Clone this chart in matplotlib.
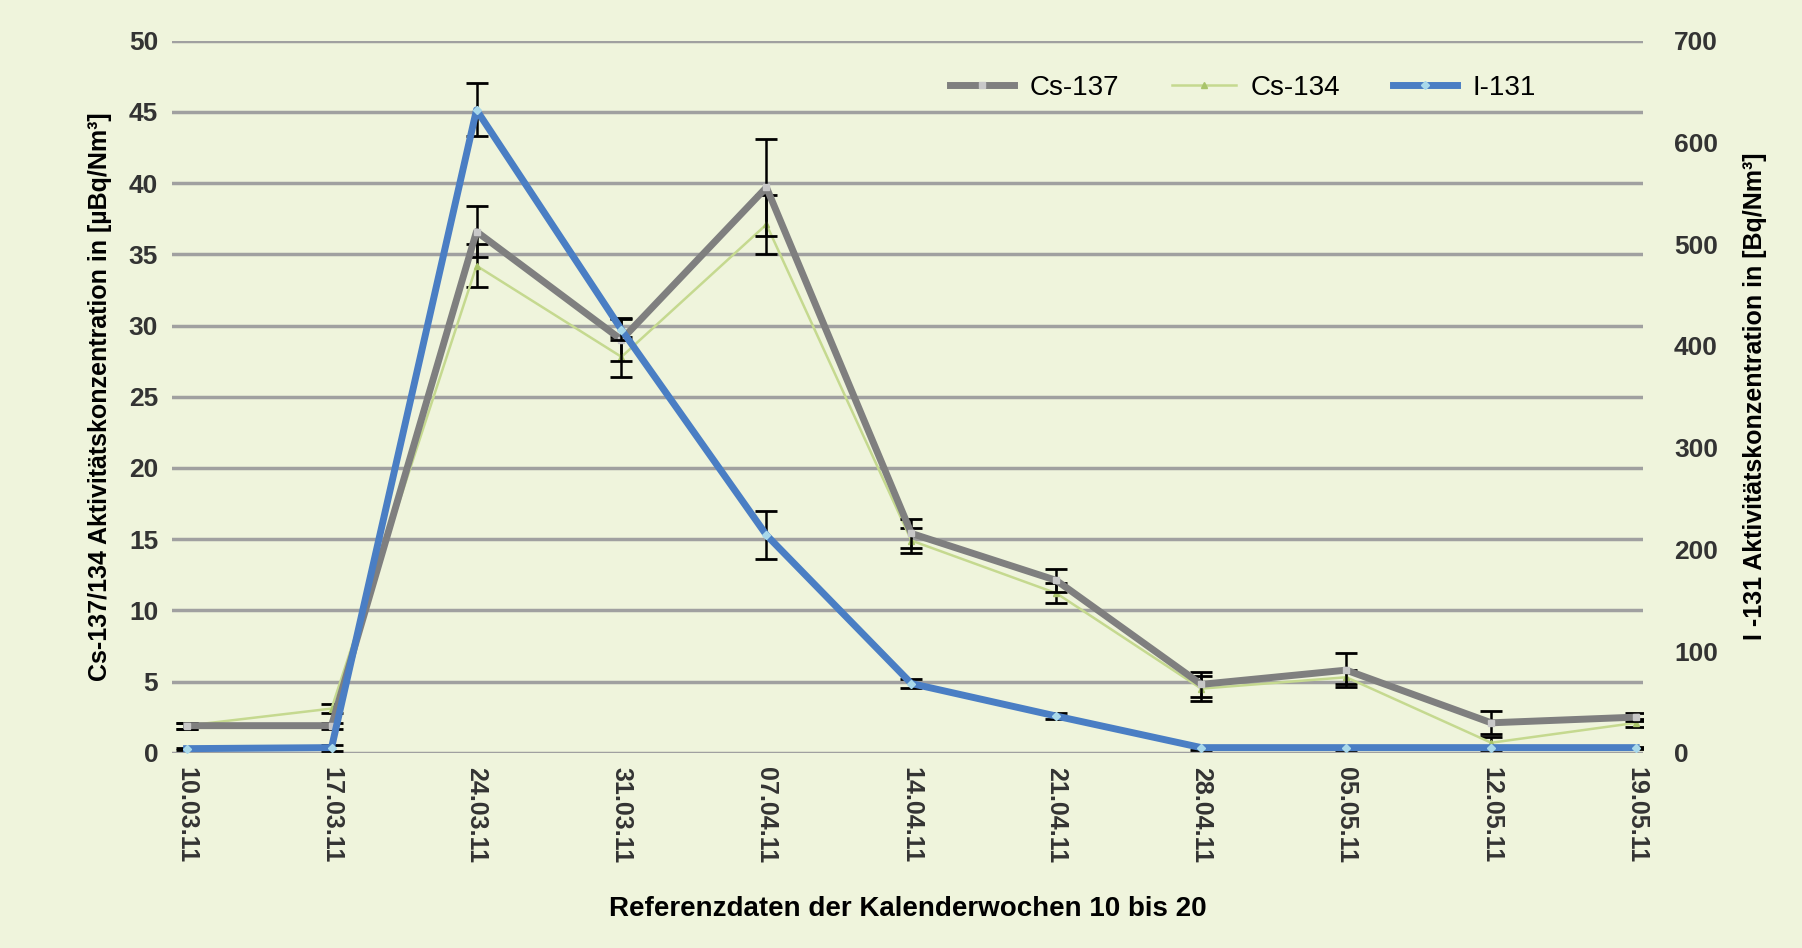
import numpy as np
import matplotlib
matplotlib.use('Agg')
import matplotlib.pyplot as plt
from matplotlib.lines import Line2D

# daten
datum = ['10.03.11', '17.03.11', '24.03.11', '31.03.11', '07.04.11', '14.04.11',
         '21.04.11', '28.04.11', '05.05.11', '12.05.11', '19.05.11']
cs137 = [1.9, 1.9, 36.6, 29.0, 39.7, 15.4, 12.1, 4.8, 5.8, 2.1, 2.5]
cs137_err = [0.2, 0.2, 1.8, 1.5, 3.4, 1.0, 0.8, 0.9, 1.2, 0.8, 0.3]
cs134 = [1.9, 3.1, 34.2, 27.8, 37.1, 14.9, 11.2, 4.5, 5.3, 0.7, 2.1]
cs134_err = [0.2, 0.3, 1.5, 1.4, 2.1, 0.9, 0.7, 0.9, 0.5, 0.4, 0.3]
i131 = [4, 5, 632, 416, 214, 68, 36, 5, 5, 5, 5]
i131_err = [1, 3, 26, 10, 24, 4, 3, 2, 2, 2, 1]

bg = '#eff4dc'
plt.rcParams['font.family'] = ['Liberation Sans', 'DejaVu Sans']

fig = plt.figure(figsize=(18.02, 9.48), dpi=100, facecolor=bg)
ax = fig.add_axes([0.0955, 0.206, 0.8165, 0.751])
ax.set_facecolor(bg)
ax2 = ax.twinx()

x = np.arange(len(datum))

# Cs-137 / Cs-134 links
ax.errorbar(x, cs134, yerr=cs134_err, color='#c5d98f', lw=1.8, marker='^', ms=5,
            mfc='#a9c46a', mec='#a9c46a', ecolor='black', elinewidth=1.8,
            capsize=8, capthick=2, zorder=3)
ax.errorbar(x, cs137, yerr=cs137_err, color='#7f7f7f', lw=5, marker='s', ms=4,
            mfc='#c8c8c8', mec='#c8c8c8', ecolor='black', elinewidth=1.8,
            capsize=8, capthick=2, zorder=4)

# I-131 rechts
ax2.errorbar(x, i131, yerr=i131_err, color='#4a7ec4', lw=5, marker='D', ms=4,
             mfc='#a8d8ea', mec='#a8d8ea', ecolor='black', elinewidth=1.8,
             capsize=8, capthick=2, zorder=3)

ax.set_xlim(-0.1, 10.05)
ax.set_ylim(0, 50)
ax2.set_ylim(0, 700)
ax.set_yticks(np.arange(0, 51, 5))
ax2.set_yticks(np.arange(0, 701, 100))
ax.set_xticks(x)
ax.set_xticklabels(datum, rotation=-90, fontsize=18, fontweight='bold', color='#333333')

ax.grid(axis='y', color='#a0a0a0', lw=2.5)
ax.set_axisbelow(True)
for a in (ax, ax2):
    for s in a.spines.values():
        s.set_visible(False)
ax.tick_params(axis='both', length=0, pad=10)
ax2.tick_params(axis='y', length=0, pad=22)
for t in ax.get_yticklabels() + ax2.get_yticklabels():
    t.set_fontsize(19)
    t.set_fontweight('bold')
    t.set_color('#333333')

ax.set_ylabel('Cs-137/134 Aktivitätskonzentration in [µBq/Nm³]', labelpad=12,
              fontsize=18, fontweight='bold')
ax2.set_ylabel('I -131 Aktivitätskonzentration in [Bq/Nm³]', labelpad=18, rotation=90,
               fontsize=18, fontweight='bold')
ax.set_xlabel('Referenzdaten der Kalenderwochen 10 bis 20', labelpad=24,
              fontsize=20, fontweight='bold')

# legende
handles = [Line2D([], [], color='#7f7f7f', lw=5, marker='s', ms=4, mfc='#c8c8c8', mec='#c8c8c8'),
           Line2D([], [], color='#c5d98f', lw=1.8, marker='^', ms=5, mfc='#a9c46a', mec='#a9c46a'),
           Line2D([], [], color='#4a7ec4', lw=5, marker='D', ms=4, mfc='#a8d8ea', mec='#a8d8ea')]
labels = ['Cs-137', 'Cs-134', 'I-131']
ax2.legend(handles, labels, loc='upper left', bbox_to_anchor=(0.512, 0.987), ncol=3,
           frameon=False, fontsize=20, handlelength=2.3, handletextpad=0.55,
           columnspacing=1.9)

fig.savefig('out.png', dpi=100, facecolor=bg)
